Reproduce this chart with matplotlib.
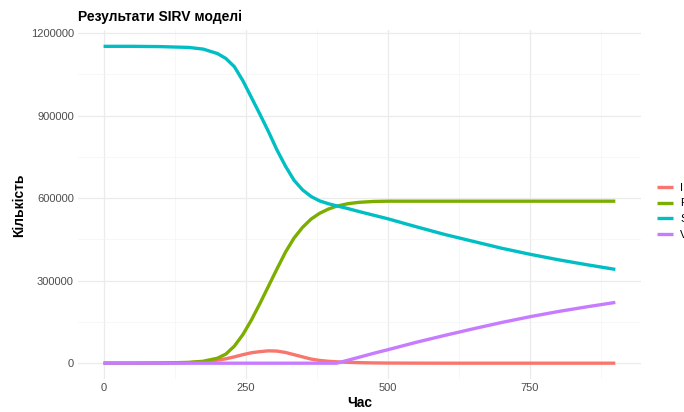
import numpy as np
import matplotlib
matplotlib.use("Agg")
import matplotlib.pyplot as plt
from matplotlib.ticker import MultipleLocator

plt.rcParams['font.family'] = ['Liberation Sans', 'DejaVu Sans']

# time points
t = [0, 50, 100, 150, 175, 200, 215, 230, 245, 260, 275, 290, 305, 320, 335, 350,
     365, 380, 395, 410, 430, 450, 475, 500, 550, 600, 650, 700, 750, 800, 850, 900]

# values in thousands
S = [1152, 1152, 1151, 1148, 1142, 1126, 1108, 1078, 1027, 966, 905, 842, 775, 716, 665, 630,
     606, 590, 580, 572, 562, 551, 538, 525, 496, 468, 443, 418, 396, 376, 358, 341]
I = [0, 0, 0.5, 2, 5, 11, 16, 23, 31, 38, 42, 45, 44, 39, 31, 23,
     15, 10, 7, 5, 3, 2, 1, 0.5, 0.2, 0, 0, 0, 0, 0, 0, 0]
R = [0, 0, 0.5, 3, 7, 18, 33, 62, 104, 157, 217, 280, 343, 404, 455, 494,
     524, 545, 560, 571, 580, 585, 588, 589, 589, 589, 589, 589, 589, 589, 589, 589]
V = [0, 0, 0, 0, 0, 0, 0, 0, 0, 0, 0, 0, 0, 0, 0, 0,
     0, 0, 0, 0, 11, 22, 36, 49, 76, 101, 125, 148, 169, 188, 205, 221]

series = ['I', 'R', 'S', 'V']
colors = ['#F8766D', '#7CAE00', '#00BFC4', '#C77CFF']
data = {'I': I, 'R': R, 'S': S, 'V': V}

fig = plt.figure(figsize=(6.84, 4.12), dpi=100)
ax = fig.add_axes([0.114, 0.080, 0.823, 0.846])

for name, col in zip(series, colors):
    ax.plot(t, np.array(data[name]) * 1000, color=col, lw=2.4, label=name,
            solid_capstyle='butt', solid_joinstyle='round')

ax.set_xlim(-45, 945)
ax.set_ylim(-57600, 1209600)
ax.xaxis.set_major_locator(MultipleLocator(250))
ax.xaxis.set_minor_locator(MultipleLocator(125))
ax.yaxis.set_major_locator(MultipleLocator(300000))
ax.yaxis.set_minor_locator(MultipleLocator(150000))
ax.yaxis.set_major_formatter(matplotlib.ticker.FuncFormatter(lambda v, p: f"{int(v)}"))

ax.grid(which='major', color='#EBEBEB', lw=0.9)
ax.grid(which='minor', color='#F4F4F4', lw=0.5)
ax.set_axisbelow(True)
for s in ax.spines.values():
    s.set_visible(False)
ax.tick_params(which='both', length=0, labelsize=8, labelcolor='#4D4D4D', pad=3)

ax.set_xlabel('Час', fontsize=10, fontweight='bold', labelpad=2)
ax.set_ylabel('Кількість', fontsize=10, fontweight='bold', labelpad=3)
ax.set_title('Результати SIRV моделі', fontsize=10, fontweight='bold', loc='left', pad=7)

fig.legend(loc='center left', bbox_to_anchor=(0.9605, 0.487), frameon=False,
           fontsize=8, handlelength=1.4, handletextpad=0.7, labelspacing=0.52,
           borderpad=0, borderaxespad=0)

fig.savefig('out.png', dpi=100)
